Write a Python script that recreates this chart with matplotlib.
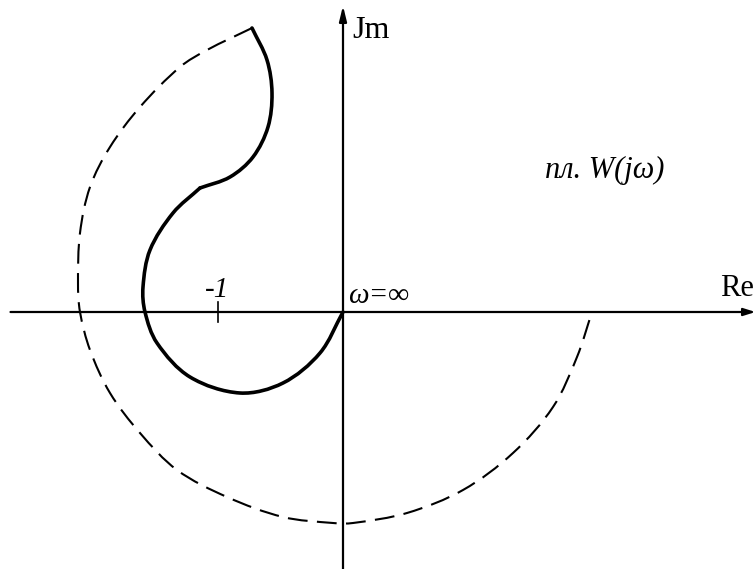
import numpy as np
import matplotlib
matplotlib.use('Agg')
import matplotlib.pyplot as plt
from matplotlib.path import Path
from matplotlib.patches import PathPatch

plt.rcParams['font.family'] = ['Liberation Serif', 'DejaVu Serif']

# годограф W(jw), верхняя петля (от стыка с дугой до излома)
upper_re = [-0.728, -0.608, -0.568, -0.600, -0.720, -0.904, -1.144]
upper_im = [2.272, 2.016, 1.752, 1.480, 1.240, 1.080, 0.992]
# нижняя петля (от излома до начала координат, w = inf)
lower_re = [-1.144, -1.360, -1.544, -1.600, -1.584, -1.488, -1.224, -0.824, -0.480, -0.184, 0.0]
lower_im = [0.992, 0.792, 0.496, 0.200, 0.0, -0.248, -0.520, -0.648, -0.568, -0.328, 0.0]
# дуга бесконечного радиуса (пунктир)
arc_re = [-0.728, -1.088, -1.304, -1.624, -1.864, -2.024, -2.104, -2.120, -2.104, -2.024,
          -1.864, -1.624, -1.328, -0.928, -0.480, -0.080, 0.080, 0.512, 0.960, 1.360,
          1.680, 1.872, 1.992]
arc_im = [2.272, 2.096, 1.960, 1.640, 1.320, 1.000, 0.632, 0.232, 0.0, -0.304,
          -0.648, -0.968, -1.264, -1.480, -1.640, -1.688, -1.688, -1.608, -1.424, -1.128,
          -0.760, -0.360, 0.0]


def smooth_path(xs, ys):
    # кривая Безье через точки, касательные по длине хорд
    pts = np.column_stack([xs, ys])
    n = len(pts)
    d = np.hypot(*np.diff(pts, axis=0).T)
    tang = np.zeros_like(pts)
    tang[0] = (pts[1] - pts[0]) / d[0]
    tang[-1] = (pts[-1] - pts[-2]) / d[-1]
    for i in range(1, n - 1):
        tang[i] = (pts[i + 1] - pts[i - 1]) / (d[i - 1] + d[i])
    verts = [pts[0]]
    codes = [Path.MOVETO]
    for i in range(n - 1):
        verts += [pts[i] + tang[i] * d[i] / 3, pts[i + 1] - tang[i + 1] * d[i] / 3, pts[i + 1]]
        codes += [Path.CURVE4] * 3
    return Path(verts, codes)


fig = plt.figure(figsize=(7.56, 5.69), dpi=100)
ax = fig.add_axes([0, 0, 1, 1])
ax.set_xlim(-2.744, 3.304)
ax.set_ylim(-2.056, 2.496)
ax.axis('off')

# оси
ax.annotate('', xy=(3.30, 0), xytext=(-2.66, 0),
            arrowprops=dict(arrowstyle='-|>,head_length=0.7,head_width=0.22', lw=1.6, color='k',
                            shrinkA=0, shrinkB=0))
ax.annotate('', xy=(0, 2.45), xytext=(0, -2.06),
            arrowprops=dict(arrowstyle='-|>,head_length=0.9,head_width=0.22', lw=1.6, color='k',
                            shrinkA=0, shrinkB=0))
ax.plot([-1, -1], [-0.08, 0.08], color='k', lw=1.2)

ax.add_patch(PathPatch(smooth_path(upper_re, upper_im), fill=False, lw=2.6, color='k',
                       capstyle='round', joinstyle='round'))
ax.add_patch(PathPatch(smooth_path(lower_re, lower_im), fill=False, lw=2.6, color='k',
                       capstyle='round', joinstyle='round'))
ax.add_patch(PathPatch(smooth_path(arc_re, arc_im), fill=False, lw=1.5, color='k',
                       linestyle=(0, (9.5, 4.5))))

ax.text(0.072, 2.192, 'Jm', fontsize=23, va='baseline')
ax.text(3.016, 0.128, 'Re', fontsize=22, va='baseline')
ax.text(1.616, 1.072, 'пл. W(jω)', fontsize=22, style='italic', va='baseline')
ax.text(-1.104, 0.12, '-1', fontsize=21, style='italic', va='baseline')
ax.text(0.04, 0.072, 'ω=∞', fontsize=21, style='italic', va='baseline')

plt.savefig('out.png', dpi=100)
